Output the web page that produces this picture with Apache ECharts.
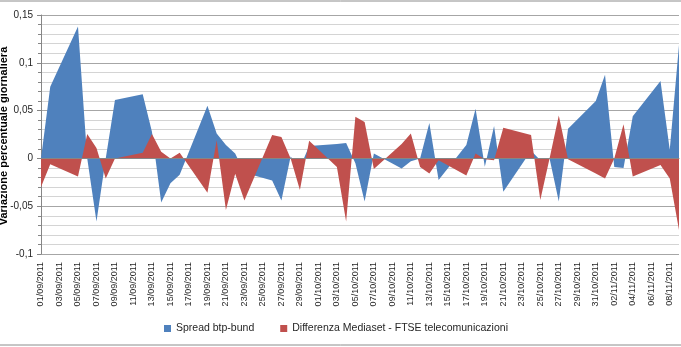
<!DOCTYPE html>
<html>
<head>
<meta charset="utf-8">
<script src="https://cdn.jsdelivr.net/npm/echarts@6/dist/echarts.min.js"></script>
<style>
  html, body { margin: 0; padding: 0; background: #ffffff; }
  #chart { width: 681px; height: 347px; }
</style>
</head>
<body>
<div id="chart"></div>
<script>
// Trading days (weekends are absent, the axis still runs on calendar days)
const tradingDays = [
  '01/09/2011','02/09/2011','05/09/2011','06/09/2011','07/09/2011','08/09/2011','09/09/2011',
  '12/09/2011','13/09/2011','14/09/2011','15/09/2011','16/09/2011',
  '19/09/2011','20/09/2011','21/09/2011','22/09/2011','23/09/2011',
  '26/09/2011','27/09/2011','28/09/2011','29/09/2011','30/09/2011',
  '03/10/2011','04/10/2011','05/10/2011','06/10/2011','07/10/2011',
  '10/10/2011','11/10/2011','12/10/2011','13/10/2011','14/10/2011',
  '17/10/2011','18/10/2011','19/10/2011','20/10/2011','21/10/2011',
  '24/10/2011','25/10/2011','26/10/2011','27/10/2011','28/10/2011',
  '31/10/2011','01/11/2011','02/11/2011','03/11/2011','04/11/2011',
  '07/11/2011','08/11/2011','09/11/2011'
];

// Daily change of the BTP-Bund spread
const spreadBtpBund = [
  0.000, 0.075, 0.138, 0.000, -0.066, 0.000, 0.061,
  0.067, 0.028, -0.046, -0.026, -0.017,
  0.055, 0.026, 0.014, 0.005, -0.015,
  -0.023, -0.044, 0.002, -0.010, 0.013,
  0.015, 0.016, -0.005, -0.045, 0.005,
  -0.0105, -0.003, 0.000, 0.037, -0.0225,
  0.014, 0.052, -0.0087, 0.034, -0.035,
  0.008, -0.002, 0.000, -0.045, 0.031,
  0.060, 0.0875, -0.009, -0.010, 0.044,
  0.081, 0.009, 0.1185
];

// Daily difference Mediaset vs FTSE telecom index
const diffMediasetFtse = [
  -0.030, -0.006, -0.019, 0.0255, 0.011, -0.021, 0.000,
  0.006, 0.0255, 0.007, 0.000, 0.006,
  -0.036, 0.019, -0.054, -0.016, -0.044,
  0.0245, 0.0225, 0.000, -0.033, 0.0185,
  -0.009, -0.066, 0.0436, 0.038, -0.011,
  0.015, 0.026, -0.009, -0.0157, -0.002,
  -0.018, 0.005, -0.001, -0.002, 0.032,
  0.0245, -0.0436, 0.000, 0.045, -0.001,
  -0.0157, -0.021, 0.000, 0.0356, -0.019,
  -0.007, -0.021, -0.075
];

const seriesNames = ['Spread btp-bund', 'Differenza Mediaset - FTSE telecomunicazioni'];
const seriesColors = ['#4F81BD', '#C0504D'];

// Build the continuous calendar axis between first and last trading day
function parseDay(s) {
  const p = s.split('/');
  return Date.UTC(+p[2], +p[1] - 1, +p[0]);
}
function fmtDay(t) {
  const d = new Date(t);
  const dd = String(d.getUTCDate()).padStart(2, '0');
  const mm = String(d.getUTCMonth() + 1).padStart(2, '0');
  return dd + '/' + mm + '/' + d.getUTCFullYear();
}
const DAY = 86400000;
const calendarDays = [];
for (let t = parseDay(tradingDays[0]); t <= parseDay(tradingDays[tradingDays.length - 1]); t += DAY) {
  calendarDays.push(fmtDay(t));
}
function onCalendar(values) {
  const map = {};
  tradingDays.forEach((d, i) => { map[d] = values[i]; });
  return calendarDays.map(d => (d in map ? map[d] : null));
}

const chart = echarts.init(document.getElementById('chart'), null, { renderer: 'canvas' });
const FONT = '"Liberation Sans", Arial, sans-serif';

chart.setOption({
  animation: false,
  backgroundColor: '#ffffff',
  textStyle: { fontFamily: FONT },
  grid: { left: 41, right: 2, top: 15, bottom: 93, containLabel: false },
  legend: {
    data: seriesNames,
    top: 318,
    left: 159,
    icon: 'rect',
    itemWidth: 7,
    itemHeight: 7,
    itemGap: 26,
    textStyle: { fontSize: 10.5, color: '#262626', fontFamily: FONT }
  },
  xAxis: [
    {
      type: 'category',
      data: calendarDays,
      boundaryGap: false,
      position: 'bottom',
      axisLine: { show: false, onZero: false },
      axisTick: { show: false },
      splitLine: { show: false },
      axisLabel: {
        interval: 1, rotate: 90, fontSize: 9, margin: 8, color: '#262626', fontFamily: FONT,
        padding: [5, 0, 0, 0]
      }
    },
    {
      type: 'category',
      data: calendarDays,
      boundaryGap: false,
      position: 'bottom',
      z: 5,
      axisLine: { show: true, onZero: true, lineStyle: { color: '#868686', width: 1 } },
      axisTick: { show: false },
      axisLabel: { show: false },
      splitLine: { show: false }
    }
  ],
  yAxis: {
    type: 'value',
    min: -0.1,
    max: 0.15,
    interval: 0.05,
    axisLine: { show: true, lineStyle: { color: '#868686' } },
    axisTick: { show: true, length: 4, lineStyle: { color: '#868686' } },
    minorTick: { show: true, splitNumber: 5, length: 3, lineStyle: { color: '#868686' } },
    splitLine: { show: true, lineStyle: { color: '#a6a6a6', width: 1 } },
    minorSplitLine: { show: true, lineStyle: { color: '#d4d4d4', width: 1 } },
    axisLabel: {
      fontSize: 10,
      color: '#262626',
      margin: 8,
      fontFamily: FONT,
      formatter: v => String(Math.round(v * 100) / 100).replace('.', ',')
    }
  },
  graphic: [
    {
      type: 'rect',
      silent: true,
      shape: { x: -1, y: 1, width: 683, height: 344 },
      style: { fill: 'none', stroke: '#8c8c8c', lineWidth: 1 }
    },
    {
      type: 'text',
      silent: true,
      x: 4,
      y: 136,
      rotation: Math.PI / 2,
      style: {
        text: 'Variazione percentuale giornaliera',
        font: 'bold 11px "Liberation Sans", Arial, sans-serif',
        fill: '#000000',
        align: 'center',
        verticalAlign: 'middle'
      }
    }
  ],
  series: [
    {
      name: seriesNames[0],
      type: 'line',
      xAxisIndex: 0,
      data: onCalendar(spreadBtpBund),
      connectNulls: true,
      symbol: 'none',
      showSymbol: false,
      lineStyle: { width: 0 },
      itemStyle: { color: seriesColors[0] },
      areaStyle: { color: seriesColors[0], opacity: 1 }
    },
    {
      name: seriesNames[1],
      type: 'line',
      xAxisIndex: 0,
      data: onCalendar(diffMediasetFtse),
      connectNulls: true,
      symbol: 'none',
      showSymbol: false,
      lineStyle: { width: 0 },
      itemStyle: { color: seriesColors[1] },
      areaStyle: { color: seriesColors[1], opacity: 1 }
    }
  ]
});
</script>
</body>
</html>
